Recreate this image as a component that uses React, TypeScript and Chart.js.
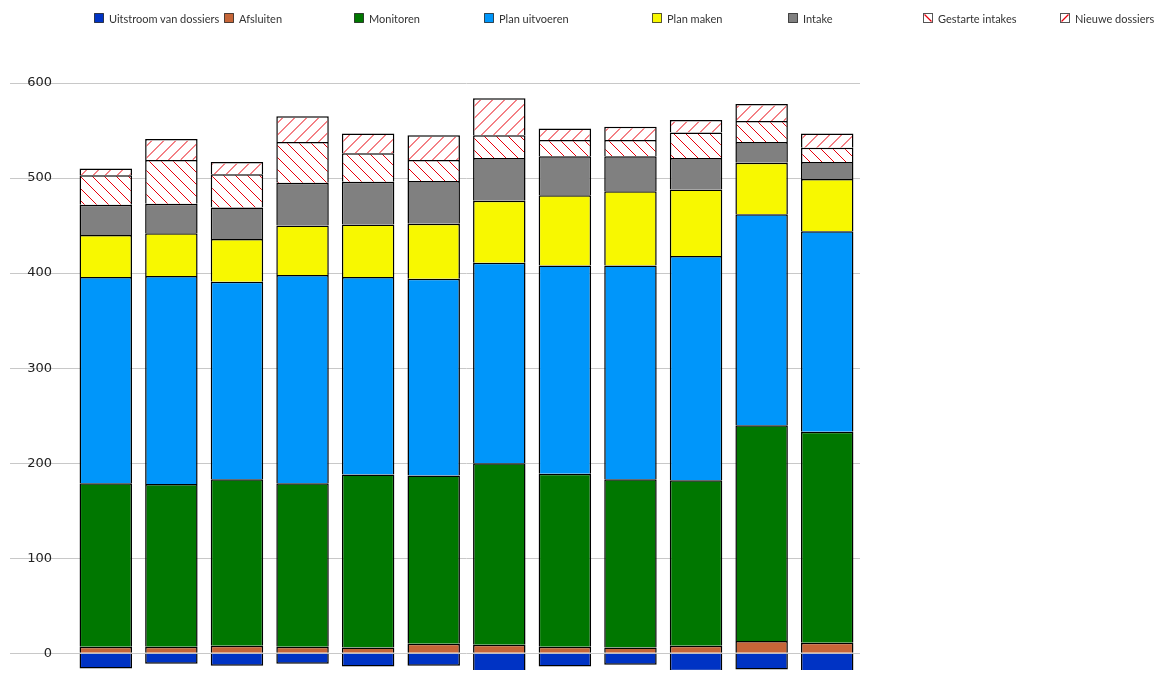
import { useEffect, useRef } from 'react'
import { Chart, registerables } from 'chart.js'
import type { Plugin } from 'chart.js'
Chart.register(...registerables)

// periods (x labels are not shown in the chart)
const PERIODS = ['jan', 'feb', 'mrt', 'apr', 'mei', 'jun', 'jul', 'aug', 'sep', 'okt', 'nov', 'dec']

const UITSTROOM      = [-16, -11, -13, -11, -14, -13, -20, -14, -12, -19, -17, -30]
const AFSLUITEN      = [7, 7, 8, 7, 6, 10, 9, 7, 6, 8, 13, 11]
const MONITOREN      = [172, 171, 175, 172, 182, 177, 191, 182, 177, 174, 227, 222]
const PLAN_UITVOEREN = [217, 219, 208, 219, 208, 207, 211, 219, 225, 236, 222, 211]
const PLAN_MAKEN     = [44, 45, 45, 52, 55, 58, 65, 74, 78, 70, 54, 55]
const INTAKE         = [32, 31, 33, 45, 45, 45, 45, 41, 37, 33, 22, 18]
const GESTARTE       = [31, 46, 35, 43, 30, 22, 24, 17, 17, 27, 22, 15]
const NIEUWE         = [7, 22, 13, 27, 21, 26, 39, 12, 14, 13, 18, 15]

const Y_TICKS = [0, 100, 200, 300, 400, 500, 600]

const RED = 'rgb(232, 0, 11)'
const HATCH = 12
const BORDER = 1.5

type Swatch = { label: string; color?: string; hatch?: 'back' | 'fwd' }
const LEGEND: Swatch[] = [
  { label: 'Uitstroom van dossiers', color: '#0033c4' },
  { label: 'Afsluiten', color: '#c66638' },
  { label: 'Monitoren', color: '#007700' },
  { label: 'Plan uitvoeren', color: '#0096fa' },
  { label: 'Plan maken', color: '#f8f800' },
  { label: 'Intake', color: '#808080' },
  { label: 'Gestarte intakes', hatch: 'back' },
  { label: 'Nieuwe dossiers', hatch: 'fwd' },
]
// left edge of each legend item, px inside the chart box
const LEGEND_LEFT = [86, 216, 346, 476, 644, 780, 915, 1052]

// white tile with a red \ diagonal
function hatchTile() {
  const c = document.createElement('canvas')
  c.width = HATCH; c.height = HATCH
  const g = c.getContext('2d')!
  g.fillStyle = '#ffffff'
  g.fillRect(0, 0, HATCH, HATCH)
  g.fillStyle = RED
  for (let i = 0; i < HATCH; i++) g.fillRect(i, i, 1, 1)
  return c
}

// red / hatch over the bars of one dataset, clipped inside each bar's border
function slashHatch(datasetIndex: number): Plugin<'bar'> {
  return {
    id: 'slashHatch',
    afterDatasetsDraw(chart) {
      const ctx = chart.ctx
      const meta = chart.getDatasetMeta(datasetIndex)
      ctx.save()
      ctx.strokeStyle = RED
      ctx.lineWidth = 1
      for (const el of meta.data) {
        const { x, y, base, width } = el.getProps(['x', 'y', 'base', 'width'], true) as any
        const left = x - width / 2 + BORDER, right = x + width / 2 - BORDER
        const top = Math.min(y, base) + BORDER, bottom = Math.max(y, base)
        if (bottom <= top) continue
        ctx.save()
        ctx.beginPath()
        ctx.rect(left, top, right - left, bottom - top)
        ctx.clip()
        ctx.beginPath()
        const k0 = Math.floor((left + top) / HATCH), k1 = Math.ceil((right + bottom) / HATCH)
        for (let k = k0; k <= k1; k++) {
          const c = k * HATCH + 0.5
          ctx.moveTo(c - bottom, bottom)
          ctx.lineTo(c - top, top)
        }
        ctx.stroke()
        ctx.restore()
      }
      ctx.restore()
    },
  }
}

function LegendBox({ item }: { item: Swatch }) {
  return (
    <svg width="10" height="10" style={{ display: 'block' }}>
      <rect x="0.5" y="0.5" width="9" height="9" fill={item.color ?? '#fff'} stroke={item.hatch ? '#555' : 'rgba(0,0,0,0.65)'} />
      {item.hatch === 'back' && <line x1="1.5" y1="1.5" x2="8.5" y2="8.5" stroke={RED} strokeWidth="1.2" />}
      {item.hatch === 'fwd' && <line x1="1.5" y1="8.5" x2="8.5" y2="1.5" stroke={RED} strokeWidth="1.2" />}
    </svg>
  )
}

export default function App() {
  const ref = useRef<HTMLCanvasElement>(null)
  const inst = useRef<Chart | null>(null)

  useEffect(() => {
    if (!ref.current) return
    inst.current?.destroy()
    const ctx = ref.current.getContext('2d')!
    const back = ctx.createPattern(hatchTile(), 'repeat')!

    const base = { borderColor: '#000', borderWidth: BORDER, barPercentage: 0.8, categoryPercentage: 1 }
    inst.current = new Chart(ref.current, {
      type: 'bar',
      data: {
        labels: PERIODS,
        datasets: [
          { ...base, label: 'Uitstroom van dossiers', data: UITSTROOM, backgroundColor: '#0033c4' },
          { ...base, label: 'Afsluiten', data: AFSLUITEN, backgroundColor: '#c66638' },
          { ...base, label: 'Monitoren', data: MONITOREN, backgroundColor: '#007700' },
          { ...base, label: 'Plan uitvoeren', data: PLAN_UITVOEREN, backgroundColor: '#0096fa' },
          { ...base, label: 'Plan maken', data: PLAN_MAKEN, backgroundColor: '#f8f800' },
          { ...base, label: 'Intake', data: INTAKE, backgroundColor: '#808080' },
          { ...base, label: 'Gestarte intakes', data: GESTARTE, backgroundColor: back },
          { ...base, label: 'Nieuwe dossiers', data: NIEUWE, backgroundColor: '#ffffff' },
        ],
      },
      options: {
        animation: false,
        responsive: true,
        maintainAspectRatio: false,
        events: [],
        layout: { padding: { top: 75, right: 308, bottom: 0, left: 0 } },
        plugins: { legend: { display: false }, tooltip: { enabled: false } },
        scales: {
          x: { stacked: true, display: false },
          y: {
            stacked: true,
            min: -26,
            max: 600,
            afterBuildTicks: s => { s.ticks = Y_TICKS.map(v => ({ value: v })) },
            afterFit: s => { s.width = 65 },
            border: { display: false },
            grid: { color: '#c8c8c8', lineWidth: 1, tickLength: 63 },
            ticks: { padding: -42, color: '#222', font: { family: 'DejaVu Sans', size: 13 } },
          },
        },
      },
      plugins: [slashHatch(7)],
    })
    return () => inst.current?.destroy()
  }, [])

  return (
    <div style={{ position: 'relative', height: 670, marginBottom: -8 }}>
      <canvas ref={ref} />
      <div style={{ position: 'absolute', top: 0, left: 0, right: 0, height: 20, fontFamily: 'Lato', fontSize: 11, color: '#333' }}>
        {LEGEND.map((it, i) => (
          <div key={it.label} style={{ position: 'absolute', left: LEGEND_LEFT[i], top: 0, height: 20, display: 'flex', alignItems: 'center', gap: 5, whiteSpace: 'nowrap' }}>
            <LegendBox item={it} />
            <span>{it.label}</span>
          </div>
        ))}
      </div>
    </div>
  )
}
